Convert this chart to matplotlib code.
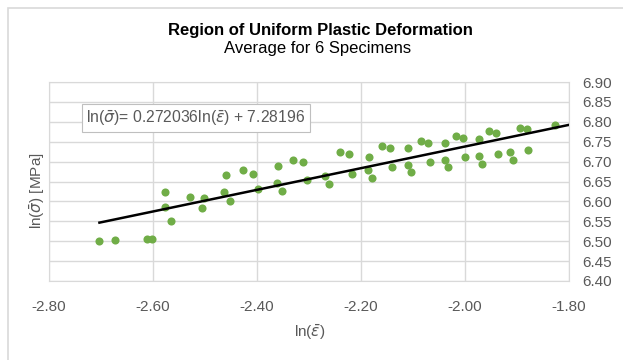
import matplotlib.pyplot as plt
from matplotlib.patches import Rectangle
import numpy as np

ln_strain = [-2.703, -2.673, -2.611, -2.601, -2.577, -2.577, -2.566, -2.528, -2.506, -2.502,
             -2.463, -2.460, -2.452, -2.427, -2.407, -2.399, -2.359, -2.361, -2.351, -2.330,
             -2.312, -2.304, -2.269, -2.261, -2.240, -2.223, -2.218, -2.184, -2.186, -2.179,
             -2.159, -2.144, -2.140, -2.109, -2.109, -2.103, -2.085, -2.071, -2.067, -2.038,
             -2.038, -2.033, -2.017, -2.003, -2.000, -1.973, -1.973, -1.968, -1.954, -1.941,
             -1.936, -1.913, -1.908, -1.894, -1.881, -1.879, -1.827]
ln_stress = [6.501, 6.502, 6.505, 6.505, 6.623, 6.586, 6.550, 6.612, 6.584, 6.609,
             6.623, 6.666, 6.602, 6.680, 6.669, 6.632, 6.688, 6.647, 6.627, 6.705,
             6.699, 6.653, 6.665, 6.644, 6.723, 6.718, 6.669, 6.712, 6.680, 6.659,
             6.738, 6.734, 6.686, 6.734, 6.691, 6.673, 6.753, 6.747, 6.698, 6.747,
             6.705, 6.686, 6.765, 6.759, 6.712, 6.757, 6.715, 6.695, 6.776, 6.772,
             6.720, 6.724, 6.705, 6.784, 6.782, 6.730, 6.793]

slope = 0.272036
intercept = 7.28196
x_ticks = [-2.80, -2.60, -2.40, -2.20, -2.00, -1.80]
y_ticks = [6.40, 6.45, 6.50, 6.55, 6.60, 6.65, 6.70, 6.75, 6.80, 6.85, 6.90]

plt.rcParams['font.family'] = ['Liberation Sans', 'DejaVu Sans']
plt.rcParams['mathtext.fontset'] = 'dejavusans'
grey = '#595959'
grid = '#D9D9D9'

W, H = 623, 360
fig = plt.figure(figsize=(W / 100, H / 100), dpi=100)
ax = fig.add_axes([49 / W, 1 - 281 / H, 520 / W, 199 / H])

# chart area border (only top/left visible in the crop)
fig.patches.append(Rectangle((7.5 / W, -0.2), 1.2, 1 - 8 / H + 0.2,
                             transform=fig.transFigure, fill=False,
                             edgecolor=grid, linewidth=1.2))

ax.scatter(ln_strain, ln_stress, s=34, color='#70AD47', zorder=3, linewidths=0)

xs = np.array([min(ln_strain), x_ticks[-1]])
ax.plot(xs, slope * xs + intercept, color='black', linewidth=1.8, zorder=4)

ax.set_xlim(x_ticks[0], x_ticks[-1])
ax.set_ylim(y_ticks[0], y_ticks[-1])
ax.set_xticks(x_ticks)
ax.set_yticks(y_ticks)
ax.set_xticklabels([f'{v:.2f}' for v in x_ticks])
ax.set_yticklabels([f'{v:.2f}' for v in y_ticks])
ax.yaxis.tick_right()
ax.tick_params(length=0, colors=grey, labelsize=11)
ax.tick_params(axis='x', pad=13.5)
ax.tick_params(axis='y', pad=9.5)
ax.grid(True, color=grid, linewidth=1)
ax.set_axisbelow(True)
for s in ax.spines.values():
    s.set_color(grid)

fig.text(320 / W, 1 - 31 / H, 'Region of Uniform Plastic Deformation',
         ha='center', va='center', fontsize=12, fontweight='bold', color='black')
fig.text(318 / W, 1 - 49 / H, 'Average for 6 Specimens',
         ha='center', va='center', fontsize=12, color='black')

fig.text(310 / W, 1 - 332 / H, r'ln($\bar{\varepsilon}$)', ha='center', va='center',
         fontsize=11, color=grey)
fig.text(37 / W, 1 - 191 / H, r'ln($\bar{\sigma}$) [MPa]', ha='center', va='center',
         rotation=90, fontsize=11, color=grey)

fig.text(196 / W, 1 - 118 / H,
         r'ln($\bar{\sigma}$)= 0.272036ln($\bar{\varepsilon}$) + 7.28196',
         ha='center', va='center', fontsize=11.3, color=grey,
         bbox=dict(boxstyle='square,pad=0.3', facecolor='white', edgecolor='#BFBFBF', linewidth=0.8))

fig.savefig('out.png', dpi=100)
